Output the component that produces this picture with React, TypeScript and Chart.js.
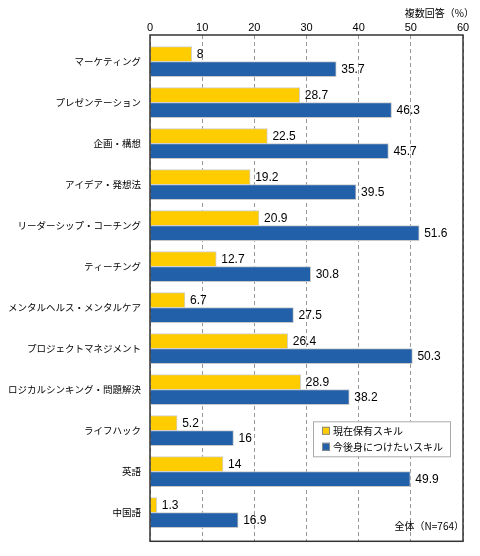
import React, { useEffect, useRef } from 'react';
import { Chart, registerables } from 'chart.js';

Chart.register(...registerables);

const categories = [
  'マーケティング',
  'プレゼンテーション',
  '企画・構想',
  'アイデア・発想法',
  'リーダーシップ・コーチング',
  'ティーチング',
  'メンタルヘルス・メンタルケア',
  'プロジェクトマネジメント',
  'ロジカルシンキング・問題解決',
  'ライフハック',
  '英語',
  '中国語',
];
const currentSkills = [8, 28.7, 22.5, 19.2, 20.9, 12.7, 6.7, 26.4, 28.9, 5.2, 14, 1.3];
const futureSkills = [35.7, 46.3, 45.7, 39.5, 51.6, 30.8, 27.5, 50.3, 38.2, 16, 49.9, 16.9];
const xTicks = [0, 10, 20, 30, 40, 50, 60];
const seriesNames = ['現在保有スキル', '今後身につけたいスキル'];
const axisTitle = '複数回答（%）';
const noteText = '全体（N=764）';

const YELLOW = '#FFCC00';
const BLUE = '#2360AA';
const JP = '"Noto Sans CJK JP", "Noto Sans", sans-serif';
const LAT = '"Liberation Sans", Arial, sans-serif';

const overlayPlugin = {
  id: 'overlay',
  afterDatasetsDraw(chart: any) {
    const ctx = chart.ctx;
    ctx.save();
    ctx.fillStyle = '#000';
    ctx.font = `12px ${LAT}`;
    ctx.textAlign = 'left';
    ctx.textBaseline = 'middle';
    chart.data.datasets.forEach((ds: any, di: number) => {
      const meta = chart.getDatasetMeta(di);
      meta.data.forEach((bar: any, i: number) => {
        const v = ds.data[i].x;
        ctx.fillText(String(v), bar.x + 5, bar.y + 1);
      });
    });
    ctx.restore();
  },
  afterDraw(chart: any) {
    const ctx = chart.ctx;
    const a = chart.chartArea;
    ctx.save();
    // frame
    ctx.strokeStyle = '#333';
    ctx.lineWidth = 1.5;
    ctx.strokeRect(a.left, a.top, a.right - a.left, a.bottom - a.top);
    // axis title
    ctx.fillStyle = '#000';
    ctx.font = `10px ${JP}`;
    ctx.textAlign = 'right';
    ctx.textBaseline = 'middle';
    ctx.fillText(axisTitle, a.right + 11, 13);
    // note
    ctx.fillText(noteText, a.right + 1, a.bottom - 15);
    // legend
    const lx = a.right - 150;
    const ly = a.bottom - 120;
    const lw = 137;
    const lh = 35;
    ctx.fillStyle = '#fff';
    ctx.fillRect(lx, ly, lw, lh);
    ctx.strokeStyle = '#aaa';
    ctx.lineWidth = 1;
    ctx.strokeRect(lx + 0.5, ly + 0.5, lw, lh);
    const cols = [YELLOW, BLUE];
    seriesNames.forEach((name, i) => {
      const cy = ly + 9.5 + i * 16;
      ctx.fillStyle = cols[i];
      ctx.fillRect(lx + 9, cy - 4, 8, 8);
      ctx.strokeStyle = '#888';
      ctx.strokeRect(lx + 9.5, cy - 3.5, 7, 7);
      ctx.fillStyle = '#000';
      ctx.textAlign = 'left';
      ctx.fillText(name, lx + 20, cy);
    });
    ctx.restore();
  },
};

export default function App() {
  const ref = useRef<HTMLCanvasElement | null>(null);
  useEffect(() => {
    document.body.style.margin = '0';
    const canvas = ref.current;
    if (!canvas) return;
    const chart = new Chart(canvas, {
      type: 'bar',
      data: {
        datasets: [
          {
            label: seriesNames[0],
            data: currentSkills.map((v, i) => ({ x: v, y: i })),
            backgroundColor: YELLOW,
            borderColor: '#d0d0d0',
            borderWidth: 1,
            barThickness: 15,
          },
          {
            label: seriesNames[1],
            data: futureSkills.map((v, i) => ({ x: v, y: i })),
            backgroundColor: BLUE,
            borderColor: '#c8c8c8',
            borderWidth: 1,
            barThickness: 15,
          },
        ],
      },
      options: {
        indexAxis: 'y',
        responsive: false,
        animation: false,
        layout: { padding: { top: 0, right: 17, bottom: 9, left: 0 } },
        plugins: { legend: { display: false }, tooltip: { enabled: false } },
        scales: {
          x: {
            type: 'linear',
            position: 'top',
            min: 0,
            max: 60,
            afterBuildTicks: (s: any) => {
              s.ticks = xTicks.map((v) => ({ value: v }));
            },
            afterFit: (s: any) => {
              s.height = 35;
            },
            grid: { color: '#999', lineWidth: 1, drawTicks: false },
            border: { display: false, dash: [4, 3] },
            ticks: { padding: 0, color: '#000', font: { size: 11, family: LAT } },
          },
          y: {
            type: 'linear',
            offset: false,
            min: -0.65,
            max: 11.7,
            reverse: true,
            afterBuildTicks: (s: any) => {
              s.ticks = categories.map((_, i) => ({ value: i }));
            },
            afterFit: (s: any) => {
              s.width = 150;
            },
            grid: { display: false, drawTicks: false, offset: false },
            border: { display: false },
            ticks: {
              autoSkip: false,
              padding: 9,
              color: '#000',
              font: { size: 9.5, family: JP },
              callback: (v: any) => categories[v as number] ?? '',
            },
          },
        },
      } as any,
      plugins: [overlayPlugin],
    });
    return () => chart.destroy();
  }, []);
  return (
    <div style={{ width: 480, height: 556 }}>
      <canvas ref={ref} width={480} height={556} />
    </div>
  );
}
